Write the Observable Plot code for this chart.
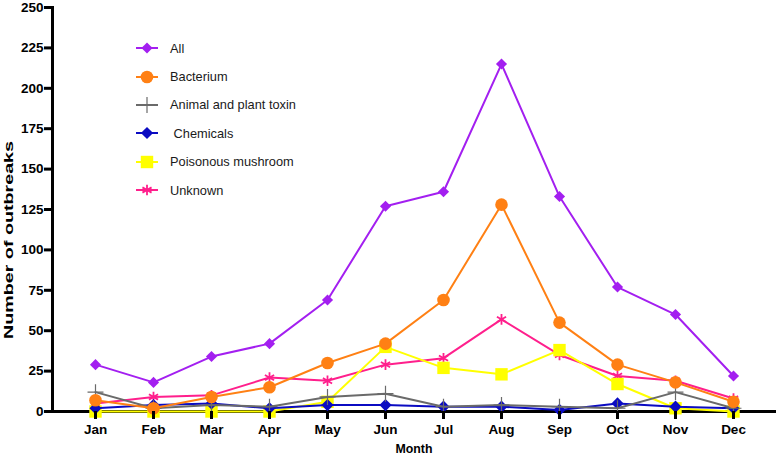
<!DOCTYPE html>
<html>
<head>
<meta charset="utf-8">
<script src="https://cdn.jsdelivr.net/npm/d3@7"></script>
<script src="https://cdn.jsdelivr.net/npm/@observablehq/plot@0.6"></script>
<style>
  body { margin: 0; background: #fff; }
  #wrap { position: relative; width: 777px; height: 460px; font-family: Arial, "Liberation Sans", sans-serif; }
  #wrap svg.plot text { font-weight: bold; }
  #legend { position: absolute; left: 135px; top: 34px; font-size: 12.8px; color: #1a1a1a; }
  #legend .row { height: 28.4px; display: flex; align-items: center; white-space: pre; }
  #legend svg { margin-right: 11px; }
</style>
</head>
<body>
<div id="wrap"></div>
<script>
const months = ["Jan","Feb","Mar","Apr","May","Jun","Jul","Aug","Sep","Oct","Nov","Dec"];
const seriesNames = ["All","Bacterium","Animal and plant toxin"," Chemicals","Poisonous mushroom","Unknown"];
const allVals       = [29, 18, 34, 42, 69, 127, 136, 215, 133, 77, 60, 22];
const bacteriumVals = [7, 2, 9, 15, 30, 42, 69, 128, 55, 29, 18, 6];
const toxinVals     = [12, 2, 4, 3, 9, 11, 3, 4, 3, 2, 12, 2];
const chemicalVals  = [2, 4, 5, 2, 4, 4, 3, 3, 1, 5, 3, 2];
const mushroomVals  = [0, 0, 0, 0, 6, 40, 27, 23, 38, 17, 2, 0];
const unknownVals   = [5, 9, 10, 21, 19, 29, 33, 57, 35, 22, 19, 8];
const yTicks = [0, 25, 50, 75, 100, 125, 150, 175, 200, 225, 250];

const valueLists = [allVals, bacteriumVals, toxinVals, chemicalVals, mushroomVals, unknownVals];
const styles = [
  {color: "#a31ff0", symbol: "diamond2", r: 5, filled: true, sw: 0},
  {color: "#ff8014", symbol: "circle", r: 6.3, filled: true, sw: 0},
  {color: "#6a6a6a", symbol: "plus", r: 5.2, filled: false, sw: 1.2},
  {color: "#0b0bc2", symbol: "diamond2", r: 5.5, filled: true, sw: 0},
  {color: "#ffff00", symbol: "square", r: 7, filled: true, sw: 0},
  {color: "#ff1f8c", symbol: "asterisk", r: 5, filled: false, sw: 1.8}
];

const marks = [Plot.ruleY([0], {stroke: "#000", strokeWidth: 3})];
for (let i = seriesNames.length - 1; i >= 0; i--) {
  const rows = months.map((m, j) => ({month: m, value: valueLists[i][j]}));
  const s = styles[i];
  marks.push(Plot.line(rows, {x: "month", y: "value", stroke: s.color, strokeWidth: 2}));
  if (s.filled) {
    marks.push(Plot.dot(rows, {x: "month", y: "value", symbol: s.symbol, r: s.r, fill: s.color, stroke: "none"}));
  } else {
    marks.push(Plot.dot(rows, {x: "month", y: "value", symbol: s.symbol, r: s.r, fill: "none", stroke: s.color, strokeWidth: s.sw}));
  }
}
marks.push(Plot.frame({anchor: "left", stroke: "#000", strokeWidth: 3}));
marks.push(Plot.axisY({ticks: yTicks, tickSize: 8, tickPadding: 1, strokeWidth: 3, fontSize: 13.5, label: null}));
marks.push(Plot.axisX({tickSize: 8, tickPadding: 5, strokeWidth: 3, fontSize: 13.5, label: null}));

const chart = Plot.plot({
  width: 777,
  height: 460,
  marginLeft: 52,
  marginRight: 1,
  marginTop: 7,
  marginBottom: 49,
  style: {fontFamily: "Arial, 'Liberation Sans', sans-serif", color: "#000", background: "#fff"},
  x: {type: "point", domain: months, padding: 0.684},
  y: {domain: [0, 250]},
  marks
});
chart.classList.add("plot");
const wrap = document.getElementById("wrap");
wrap.appendChild(chart);

const svg = d3.select(chart);
svg.append("text").attr("x", 414).attr("y", 453).attr("text-anchor", "middle")
  .attr("font-size", 13.5).attr("font-weight", "bold")
  .attr("textLength", 37).attr("lengthAdjust", "spacingAndGlyphs").text("Month");
svg.append("text").attr("transform", "translate(13,240) rotate(-90)").attr("text-anchor", "middle")
  .attr("font-size", 13).attr("font-weight", "bold")
  .attr("textLength", 198).attr("lengthAdjust", "spacingAndGlyphs").text("Number of outbreaks");

// legend
const legend = document.createElement("div");
legend.id = "legend";
const symMap = {diamond2: d3.symbolDiamond2, circle: d3.symbolCircle, plus: d3.symbolPlus, square: d3.symbolSquare, asterisk: d3.symbolAsterisk};
seriesNames.forEach((name, i) => {
  const s = styles[i];
  const row = document.createElement("div");
  row.className = "row";
  const ls = d3.create("svg").attr("width", 24).attr("height", 16);
  ls.append("line").attr("x1", 1).attr("x2", 23).attr("y1", 8).attr("y2", 8).attr("stroke", s.color).attr("stroke-width", 2);
  const path = d3.symbol().type(symMap[s.symbol]).size(s.r * s.r * Math.PI)();
  ls.append("path").attr("d", path).attr("transform", "translate(12,8)")
    .attr("fill", s.filled ? s.color : "none").attr("stroke", s.filled ? "none" : s.color).attr("stroke-width", s.sw);
  row.appendChild(ls.node());
  const t = document.createElement("span");
  t.textContent = name;
  row.appendChild(t);
  legend.appendChild(row);
});
wrap.appendChild(legend);
</script>
</body>
</html>
